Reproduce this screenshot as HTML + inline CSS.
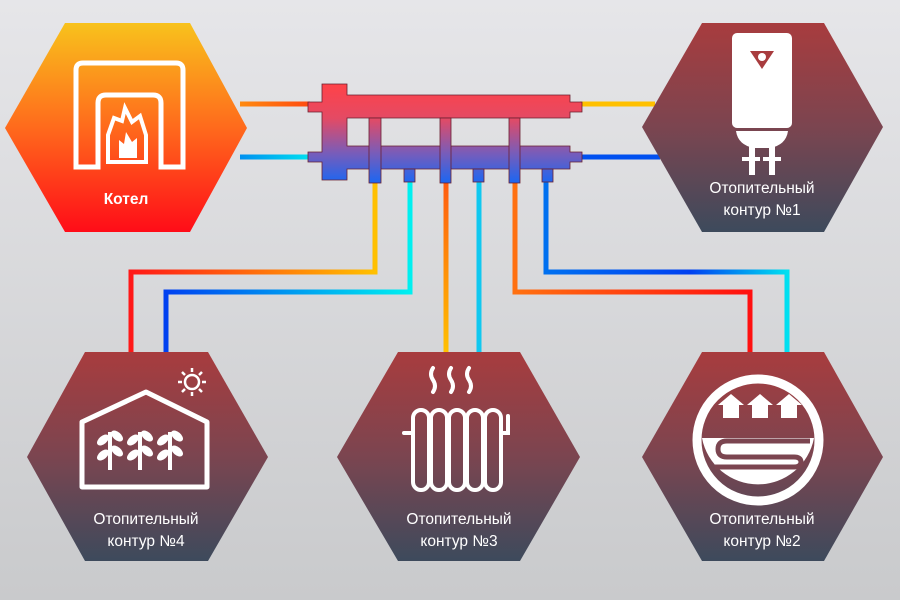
<!DOCTYPE html>
<html><head><meta charset="utf-8"><style>
html,body{margin:0;padding:0;width:900px;height:600px;overflow:hidden}
svg{display:block}
text{font-family:"Liberation Sans",sans-serif;fill:#fff;text-anchor:middle;font-size:15.5px}
</style></head><body>
<svg width="900" height="600" viewBox="0 0 900 600" xmlns="http://www.w3.org/2000/svg">
<defs>
<linearGradient id="bg" x1="0" y1="0" x2="0" y2="1"><stop offset="0" stop-color="#e6e6e9"/><stop offset="1" stop-color="#c9cacc"/></linearGradient>
<linearGradient id="hx" x1="0" y1="0" x2="0" y2="1"><stop offset="0" stop-color="#a83c3e"/><stop offset="0.5" stop-color="#7b4550"/><stop offset="1" stop-color="#3d4a5c"/></linearGradient>
<linearGradient id="boil" x1="0" y1="0" x2="0" y2="1"><stop offset="0" stop-color="#f8c21c"/><stop offset="0.5" stop-color="#ff6a1c"/><stop offset="1" stop-color="#ff0c18"/></linearGradient>
<linearGradient id="man" x1="0" y1="84" x2="0" y2="182" gradientUnits="userSpaceOnUse"><stop offset="0" stop-color="#ff4248"/><stop offset="0.35" stop-color="#e44a64"/><stop offset="0.7" stop-color="#7a5cb8"/><stop offset="1" stop-color="#1e66f0"/></linearGradient>
<linearGradient id="hotV" x1="0" y1="180" x2="0" y2="352" gradientUnits="userSpaceOnUse"><stop offset="0" stop-color="#ff5a10"/><stop offset="1" stop-color="#ffc000"/></linearGradient>
<linearGradient id="hot4" x1="375" y1="0" x2="131" y2="0" gradientUnits="userSpaceOnUse"><stop offset="0" stop-color="#ffc000"/><stop offset="1" stop-color="#ff1818"/></linearGradient>
<linearGradient id="cold4" x1="410" y1="0" x2="166" y2="0" gradientUnits="userSpaceOnUse"><stop offset="0" stop-color="#00f0f0"/><stop offset="1" stop-color="#0040f0"/></linearGradient>
<linearGradient id="hot2" x1="515" y1="0" x2="750" y2="0" gradientUnits="userSpaceOnUse"><stop offset="0" stop-color="#ff7010"/><stop offset="1" stop-color="#ff1010"/></linearGradient>
<linearGradient id="cold2" x1="546" y1="0" x2="787" y2="0" gradientUnits="userSpaceOnUse"><stop offset="0" stop-color="#0070f0"/><stop offset="0.6" stop-color="#0040f0"/><stop offset="1" stop-color="#00e0f0"/></linearGradient>
<linearGradient id="bh" x1="240" y1="0" x2="310" y2="0" gradientUnits="userSpaceOnUse"><stop offset="0" stop-color="#ff8a10"/><stop offset="1" stop-color="#ff4a10"/></linearGradient>
<linearGradient id="bc" x1="240" y1="0" x2="310" y2="0" gradientUnits="userSpaceOnUse"><stop offset="0" stop-color="#0090f0"/><stop offset="1" stop-color="#00e0f0"/></linearGradient>
</defs>
<rect width="900" height="600" fill="url(#bg)"/>

<g fill="none" stroke-width="5">
<line x1="240" y1="104" x2="310" y2="104" stroke="url(#bh)"/>
<line x1="240" y1="157" x2="310" y2="157" stroke="url(#bc)"/>
<line x1="580" y1="104" x2="655" y2="104" stroke="#ffc000"/>
<line x1="580" y1="157" x2="660" y2="157" stroke="#0050f0"/>
<polyline points="375,180 375,272 131,272 131,352" stroke="url(#hot4)"/>
<polyline points="410,180 410,292 166,292 166,352" stroke="url(#cold4)"/>
<line x1="446" y1="180" x2="446" y2="352" stroke="url(#hotV)"/>
<line x1="479" y1="180" x2="479" y2="352" stroke="#10c8f0"/>
<polyline points="515,180 515,292 750,292 750,352" stroke="url(#hot2)"/>
<polyline points="546,180 546,272 787,272 787,352" stroke="url(#cold2)"/>
</g>

<g fill="url(#man)" stroke="#6a2030" stroke-width="0.8">
<path d="M322,84 H347 V95 H570 V102 H582 V112 H570 V118 H347 V146 H570 V152 H582 V162 H570 V169 H347 V180 H322 V162 H308 V152 H322 V112 H308 V102 H322 Z"/>
<rect x="369" y="118" width="12" height="65"/>
<rect x="440" y="118" width="11" height="65"/>
<rect x="509" y="118" width="11" height="65"/>
<rect x="404" y="169" width="11" height="13"/>
<rect x="473" y="169" width="11" height="13"/>
<rect x="542" y="169" width="11" height="13"/>
</g>

<polygon points="65,23 190,23 247,128 190,232 65,232 5,128" fill="url(#boil)"/>
<polygon points="702,23 824,23 883,127 824,232 702,232 642,127" fill="url(#hx)"/>
<polygon points="85,352 208,352 268,457 208,561 85,561 27,457" fill="url(#hx)"/>
<polygon points="398,352 520,352 580,457 520,561 398,561 337,457" fill="url(#hx)"/>
<polygon points="702,352 824,352 883,457 824,561 702,561 642,457" fill="url(#hx)"/>

<g fill="none" stroke="#fff" stroke-width="5">
<path d="M76,167 V70 Q76,63 83,63 H176 Q183,63 183,70 V167 H161 V103 Q161,95 153,95 H106 Q98,95 98,103 V167 Z"/>
<path d="M108,162 V135 L114,118 L122,121 L125,108 L132,122 L140,116 L146,135 V162 Z" stroke-width="4"/>
</g>
<path d="M119,158 L119,140 L124,144 L126,132 L132,142 L137,138 L137,158 Z" fill="#fff"/>
<text x="126" y="204" font-weight="bold" font-size="16">Котел</text>

<g fill="#fff">
<rect x="732" y="33" width="60" height="95" rx="5"/>
<path d="M736,131 H788 Q786,145 770,148 H754 Q738,145 736,131 Z"/>
<rect x="749" y="145" width="6" height="30"/><rect x="769" y="145" width="6" height="30"/>
<rect x="742" y="157" width="18" height="4"/><rect x="763" y="157" width="18" height="4"/>
</g>
<path d="M750,51 L774,51 L762,69 Z" fill="#a83c3e"/>
<circle cx="762" cy="57" r="4" fill="#fff"/>
<text x="762" y="193">Отопительный</text>
<text x="762" y="215">контур  №1</text>

<g fill="none" stroke="#fff" stroke-width="5" stroke-linejoin="round">
<path d="M82,487 V422 L146,392 L207,422 V487 Z"/>
</g>
<g stroke="#fff" stroke-width="2.5" fill="none">
<circle cx="192" cy="382" r="7"/>
<path d="M192,368 v4 M192,392 v4 M178,382 h4 M202,382 h4 M182,372 l3,3 M202,372 l-3,3 M182,392 l3,-3 M202,392 l-3,-3"/>
</g>
<g stroke="#fff" stroke-width="4" fill="#fff">
<path d="M110,470 V432 M140,470 V432 M170,470 V432"/>
<g stroke-width="2">
<ellipse cx="103" cy="440" rx="6" ry="3" transform="rotate(-40 103 440)"/><ellipse cx="117" cy="436" rx="6" ry="3" transform="rotate(40 117 436)"/><ellipse cx="103" cy="455" rx="6" ry="3" transform="rotate(-40 103 455)"/><ellipse cx="117" cy="451" rx="6" ry="3" transform="rotate(40 117 451)"/>
<ellipse cx="133" cy="440" rx="6" ry="3" transform="rotate(-40 133 440)"/><ellipse cx="147" cy="436" rx="6" ry="3" transform="rotate(40 147 436)"/><ellipse cx="133" cy="455" rx="6" ry="3" transform="rotate(-40 133 455)"/><ellipse cx="147" cy="451" rx="6" ry="3" transform="rotate(40 147 451)"/>
<ellipse cx="163" cy="440" rx="6" ry="3" transform="rotate(-40 163 440)"/><ellipse cx="177" cy="436" rx="6" ry="3" transform="rotate(40 177 436)"/><ellipse cx="163" cy="455" rx="6" ry="3" transform="rotate(-40 163 455)"/><ellipse cx="177" cy="451" rx="6" ry="3" transform="rotate(40 177 451)"/>
</g></g>
<text x="146" y="524">Отопительный</text>
<text x="146" y="546">контур  №4</text>

<g fill="none" stroke="#fff" stroke-width="4" stroke-linecap="round">
<path d="M433,368 q-4,6 0,12 q4,6 0,12 M451,368 q-4,6 0,12 q4,6 0,12 M469,368 q-4,6 0,12 q4,6 0,12"/>
<path d="M404,433 H413"/>
<path d="M508,416 V433 H502"/>
<rect x="413" y="410" width="16" height="80" rx="8"/>
<rect x="431" y="410" width="16" height="80" rx="8"/>
<rect x="449" y="410" width="16" height="80" rx="8"/>
<rect x="467" y="410" width="16" height="80" rx="8"/>
<rect x="485" y="410" width="16" height="80" rx="8"/>
</g>
<text x="459" y="524">Отопительный</text>
<text x="459" y="546">контур  №3</text>

<circle cx="758" cy="440" r="61" fill="none" stroke="#fff" stroke-width="9"/>
<path d="M702,438 A57,57 0 0 0 814,438 Z" fill="#fff"/>
<g fill="#fff">
<path d="M723,418 V405 H718 L731,394 L744,405 H739 V418 Z"/>
<path d="M752,418 V405 H747 L760,394 L773,405 H768 V418 Z"/>
<path d="M781,418 V405 H776 L789,394 L802,405 H797 V418 Z"/>
</g>
<path d="M810,441 H727 Q718,441 718,449 Q718,457 727,457 H794 Q801,457 801,462 Q801,467 794,467 H715" fill="none" stroke="#7b4550" stroke-width="5"/>
<text x="762" y="524">Отопительный</text>
<text x="762" y="546">контур  №2</text>
</svg>
</body></html>
